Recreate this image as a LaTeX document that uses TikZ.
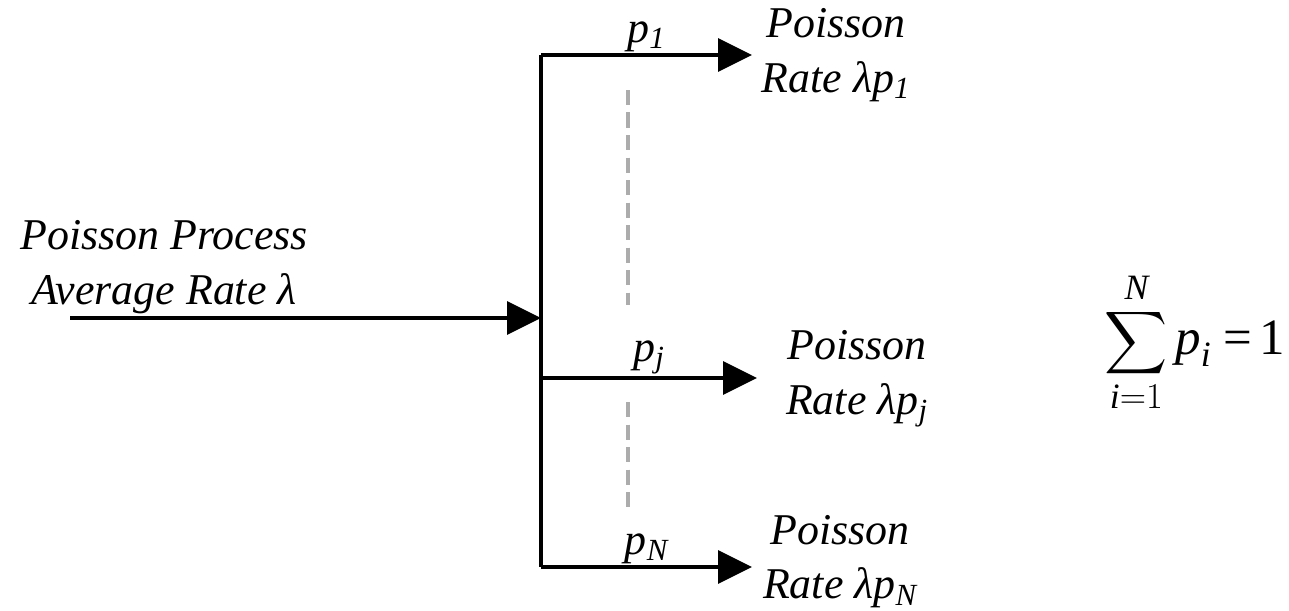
\documentclass[tikz,border=0pt]{standalone}
\usepackage{amsmath}
\usepackage{fontspec}
\setmainfont{Liberation Serif}
\usepackage{tikz}
\usetikzlibrary{arrows.meta}

\begin{document}
\begin{tikzpicture}[arr/.style={-{Triangle[length=0.68cm,width=0.66cm]},line width=2pt},
  lbl/.style={font=\fontsize{25}{31}\selectfont\itshape,align=center,inner sep=1pt},
  dots/.style={gray!65,line width=2pt,dash pattern=on 0.3cm off 0.15cm}]
  \useasboundingbox (0,0) rectangle (25.78,12.2);
  % Splitting point and branch corners
  \coordinate (in)  at (1.4,5.84);
  \coordinate (j0)  at (10.82,5.84);
  \coordinate (top) at (10.82,11.1);
  \coordinate (mid) at (10.82,4.64);
  \coordinate (bot) at (10.82,0.86);
  \coordinate (t1)  at (15.04,11.1);
  \coordinate (tj)  at (15.14,4.64);
  \coordinate (tN)  at (15.04,0.86);
  % Incoming process
  \node[lbl] (src) at (3.28,6.86) {Poisson Process\\ Average Rate λ};
  \draw[arr] (in) -- (j0);
  \draw[line width=2pt] (top) -- (bot);
  % Branches
  \draw[arr] (top) -- (t1) node[lbl,midway,above] (q1) {p\textsubscript{1}};
  \draw[arr] (mid) -- (tj) node[lbl,midway,above] (qj) {p\textsubscript{j}};
  \draw[arr] (bot) -- (tN) node[lbl,midway,above] (qN) {p\textsubscript{N}};
  % Outgoing processes
  \node[lbl] (out1) at (16.72,11.1) {Poisson\\Rate λp\textsubscript{1}};
  \node[lbl] (outj) at (17.14,4.62) {Poisson\\Rate λp\textsubscript{j}};
  \node[lbl] (outN) at (16.8,0.97) {Poisson\\Rate λp\textsubscript{N}};
  % Omitted branches
  \coordinate (d1a) at (12.56,10.4);
  \coordinate (d1b) at (12.56,6.1);
  \coordinate (d2a) at (12.56,4.16);
  \coordinate (d2b) at (12.56,2.06);
  \draw[dots] (d1a) -- (d1b);
  \draw[dots] (d2a) -- (d2b);
  % Normalisation
  \node[font=\fontsize{29}{32}\selectfont] (norm) at (23.9,5.35)
    {$\displaystyle\sum_{\textit{i}=1}^{\textit{N}} \textit{p}_{\textit{i}} \;\text{=}\,\text{1}$};
\end{tikzpicture}
\end{document}
